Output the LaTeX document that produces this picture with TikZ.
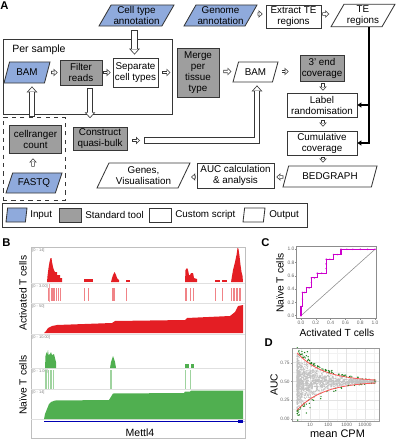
\documentclass[tikz,border=0pt]{standalone}
\usepackage{fontspec}
\setmainfont{Liberation Sans}
\usetikzlibrary{shapes.geometric,arrows.meta,calc}

\definecolor{inblue}{RGB}{143,170,220}
\definecolor{toolgray}{RGB}{158,158,158}
\definecolor{edgegray}{RGB}{55,55,55}
\definecolor{igvred}{RGB}{228,30,36}
\definecolor{igvgreen}{RGB}{80,175,80}
\definecolor{genebl}{RGB}{0,0,178}
\definecolor{rocmag}{RGB}{204,0,204}
\definecolor{nullred}{RGB}{250,90,90}
\definecolor{hitgreen}{RGB}{25,125,25}

\tikzset{
  box/.style={draw=edgegray, line width=0.6pt, align=center, inner sep=1pt},
  toolbox/.style={box, fill=toolgray},
  scriptbox/.style={box, fill=white},
  para/.style={box, trapezium, trapezium left angle=60, trapezium right angle=120, trapezium stretches body},
  inbox/.style={para, fill=inblue},
  outbox/.style={para, fill=white},
  hsmall/.style={draw=edgegray, line width=2.4pt, -{Triangle[length=2.8pt,width=5.4pt,line width=0pt]},
    postaction={draw=white, line width=1.4pt, shorten <=0.5pt, shorten >=0.72pt,
      -{Triangle[length=1.58pt,width=3.05pt,line width=0pt]}}},
  hbig/.style={draw=edgegray, line width=4.4pt, line join=miter, -{Triangle[length=4.2pt,width=7.6pt,line width=0pt]},
    postaction={draw=white, line width=3.3pt, shorten <=0.55pt, shorten >=0.82pt,
      -{Triangle[length=2.83pt,width=5.12pt,line width=0pt]}}},
  tearrow/.style={line width=1.1pt, -{Triangle[length=2.8pt,width=3.6pt]}},
  panel/.style={font=\fontsize{8}{9}\selectfont\bfseries, inner sep=0pt},
  track/.style={font=\fontsize{2.8}{3}\selectfont, text=black!50, inner sep=0pt, anchor=north west},
  ticklab/.style={font=\fontsize{3.5}{4}\selectfont, text=black!60, inner sep=0.5pt},
  axlab/.style={font=\fontsize{7.3}{8}\selectfont, inner sep=0pt},
}

\begin{document}
\begin{tikzpicture}[x=0.025cm, y=-0.025cm, font=\fontsize{7}{7.8}\selectfont]
\useasboundingbox (0,0) rectangle (403,440);

% ---------- A: workflow
\node[panel] (labA) at (4.5,5.5) {A};
\node[inbox, minimum width=1.875cm, minimum height=0.525cm] (celltype) at (136.5,15.5) {Cell type\\annotation};
\node[inbox, minimum width=1.825cm, minimum height=0.525cm] (genome) at (220.5,15.5) {Genome\\annotation};
\node[scriptbox, minimum width=1.375cm, minimum height=0.575cm] (extract) at (293.5,16.5) {Extract TE\\regions};
\node[outbox, minimum width=1.6cm, minimum height=0.525cm] (teregions) at (363,15.5) {TE\\regions};

\node[draw=edgegray, line width=0.6pt, minimum width=4.225cm, minimum height=1.875cm] (persample) at (87.5,76.5) {};
\node[anchor=west, font=\fontsize{7.5}{8}\selectfont, inner sep=0pt] (persamplelab) at (12,50) {Per sample};
\node[inbox, minimum width=1.15cm, minimum height=0.525cm] (bam1) at (27,72.5) {BAM};
\node[toolbox, minimum width=1.05cm, minimum height=0.625cm] (filter) at (81,72.5) {Filter\\reads};
\node[scriptbox, minimum width=1.125cm, minimum height=0.725cm] (separate) at (135.5,72.5) {Separate\\cell types};
\node[toolbox, minimum width=1.05cm, minimum height=1.225cm] (merge) at (198,72.5) {Merge\\per\\tissue\\type};
\node[outbox, minimum width=1.125cm, minimum height=0.5cm] (bam2) at (255.5,72) {BAM};
\node[toolbox, minimum width=1.1cm, minimum height=0.65cm] (threeend) at (322,68) {3' end\\coverage};
\node[scriptbox, minimum width=1.75cm, minimum height=0.6cm] (labrand) at (322,105) {Label\\randomisation};
\node[scriptbox, minimum width=1.75cm, minimum height=0.6cm] (cumcov) at (322,143) {Cumulative\\coverage};
\node[outbox, minimum width=2.35cm, minimum height=0.525cm] (bedgraph) at (330,176.5) {BEDGRAPH};
\node[scriptbox, minimum width=1.925cm, minimum height=0.625cm] (auc) at (235.5,175.5) {AUC calculation\\\& analysis};
\node[outbox, minimum width=2.325cm, minimum height=0.625cm] (genes) at (143.5,175.5) {Genes,\\Visualisation};

\node[draw=edgegray, dashed, line width=0.6pt, minimum width=1.55cm, minimum height=2.075cm] (tenx) at (34,158.5) {};
\node[toolbox, minimum width=1.3cm, minimum height=0.7cm] (cellranger) at (35.5,139) {cellranger\\count};
\node[inbox, minimum width=1.4cm, minimum height=0.5cm] (fastq) at (34,183) {FASTQ};
\node[toolbox, minimum width=1.35cm, minimum height=0.55cm] (quasibulk) at (100,139) {Construct\\quasi-bulk};
\coordinate (qbstart) at (144,140.5);

% hollow arrows
\draw[hsmall] ($(genome.east -| genome.top right corner)+(0,-1.5)$) -- ($(extract.west)+(-3,-2.5)$);
\draw[hsmall] ($(extract.east)+(1,-2.5)$) -- ($(teregions.west -| teregions.bottom left corner)+(-1,-1.5)$);
\draw[hbig] ($(celltype.south)+(-2,4)$) -- ($(separate.north -| celltype.south)+(-2,-3)$);
\draw[hsmall] ($(bam1.east -| bam1.top right corner)+(0.5,0)$) -- ($(filter.west)+(-2,0)$);
\draw[hsmall] ($(filter.east)+(1,0)$) -- ($(separate.west)+(-2,0)$);
\draw[hsmall] ($(separate.east)+(4,0)$) -- ($(persample.east |- separate.east)+(-2,0)$);
\draw[hsmall] ($(merge.east)+(4,-1)$) -- ($(bam2.west -| bam2.bottom left corner)+(-1,-0.5)$);
\draw[hsmall] ($(bam2.east -| bam2.top right corner)+(3,-0.5)$) -- ($(threeend.west |- bam2.east)+(-11,-0.5)$);
\draw[hsmall] ($(threeend.south)+(1,2)$) -- ($(labrand.north)+(1,-2)$);
\draw[hsmall] ($(labrand.south)+(1,3)$) -- ($(cumcov.north)+(1,-4)$);
\draw[hsmall] ($(cumcov.south)+(1,2)$) -- ($(bedgraph.north -| cumcov.south)+(1,-3)$);
\draw[hsmall] ($(bedgraph.west -| bedgraph.bottom left corner)+(1,0.5)$) -- ($(auc.east)+(2,1.5)$);
\draw[hsmall] ($(auc.west)+(-1,1.5)$) -- ($(genes.east -| genes.top right corner)+(0.5,1.5)$);
\draw[hsmall] ($(fastq.north)+(-1,-6)$) -- ($(cellranger.south)+(-2.5,5)$);
\draw[hbig] ($(tenx.north -| bam1.south)+(5,0)$) -- ($(bam1.south)+(5,3)$);
\draw[hbig] ($(filter.south)+(9,3)$) -- ($(quasibulk.north -| filter.south)+(9,-9)$);
\draw[hsmall] ($(quasibulk.east)+(5,1.5)$) -- ($(qbstart)+(-4,0)$);
\draw[hbig] (qbstart) -| ($(bam2.south)+(1.5,3)$);

% TE regions feed
\coordinate (tedrop) at ($(teregions.south)+(6,0)$);
\draw[tearrow] (tedrop) |- (cumcov.east);
\draw[tearrow] (tedrop |- labrand.east) -- (labrand.east);

% legend
\node[draw=edgegray, line width=0.6pt, minimum width=7.625cm, minimum height=0.6cm] (legend) at (154.5,215) {};
\node[inbox, minimum width=0.525cm, minimum height=0.35cm] (keyin) at (16.5,215) {};
\node[anchor=west, inner sep=0pt] (keyintext) at (30,215) {Input};
\node[toolbox, minimum width=0.55cm, minimum height=0.35cm] (keytool) at (70,215) {};
\node[anchor=west, inner sep=0pt] (keytooltext) at (85,215) {Standard tool};
\node[scriptbox, minimum width=0.55cm, minimum height=0.35cm] (keyscript) at (160.5,215) {};
\node[anchor=west, inner sep=0pt] (keyscripttext) at (175,215) {Custom script};
\node[outbox, minimum width=0.55cm, minimum height=0.35cm] (keyout) at (254,215) {};
\node[anchor=west, inner sep=0pt] (keyouttext) at (269,215) {Output};

% ---------- B: coverage tracks
\node[panel] (labB) at (6.5,242.5) {B};
\draw[black!25, line width=0.4pt] (31,247) rectangle (245,438);
\foreach \ty in {283,303,334,368,389,419}
  \draw[black!12, line width=0.3pt] (31,\ty) -- (245,\ty);
\node[track] (trk1) at (32,248) {[0 - 14]};
\node[track] (trk2) at (32,284) {[0 - 3.00]};
\node[track] (trk3) at (32,304) {[0 - 50]};
\node[track] (trk4) at (32,335) {[0 - 10.00]};
\node[track] (trk5) at (32,369.5) {[0 - 1.00]};
\node[track] (trk6) at (32,390.5) {[0 - 14]};

\fill[igvred] (47,282) -- (47.5,276) -- (48.5,268) -- (49.5,262) -- (50.5,258) -- (51.5,258) -- (52,262)
  -- (53,267) -- (54,270) -- (55,272) -- (57,272) -- (57,275) -- (60,275) -- (60,278) -- (62,278) -- (62,282) -- cycle;
\fill[igvred] (84,279) rectangle (93,282);
\fill[igvred] (111,282) -- (112,278) -- (113,275) -- (114.5,272) -- (116,275) -- (117,278) -- (119,280) -- (119,282) -- cycle;
\fill[igvred] (126,279.5) rectangle (130,282);
\fill[igvred] (185,282) -- (185.5,270) -- (187,268) -- (188,270) -- (189,275) -- (190,275) -- (191,273) -- (193,273)
  -- (194,278) -- (197,279) -- (197,282) -- cycle;
\fill[igvred] (215,279.5) rectangle (220,282);
\fill[igvred] (222,279.5) rectangle (227,282);
\fill[igvred] (231,282) -- (232,276) -- (233,270) -- (235,262) -- (236.5,255) -- (237.5,248) -- (238.5,249)
  -- (239.5,256) -- (240.5,265) -- (241.5,272) -- (242.5,276) -- (243,282) -- cycle;

\draw[igvred!40, line width=0.3pt] (49.5,284) -- (49.5,302);
\foreach \lx in {48,51,52,53,54,56,58,60,84,88,112,113,114,126,185,186,190,193,215,222,231,233,234,236,237,239,240}
  \draw[igvred!55, line width=0.28pt] (\lx,288) -- (\lx,301);

\fill[igvred] (44,333) -- (46,331) -- (48,328) -- (52,326) -- (57,325) -- (112,323) -- (115,321) -- (185,320)
  -- (187,318) -- (230,316) -- (235,312) -- (237,308) -- (238,306) -- (243,305) -- (243,333) -- cycle;

\fill[igvgreen] (45,368) -- (45.5,356) -- (46.5,352) -- (47,355) -- (48,350) -- (48.5,355) -- (50,354) -- (51,352)
  -- (52,355) -- (54,354) -- (55,358) -- (56,362) -- (56,368) -- cycle;
\fill[igvgreen] (110,368) -- (111,362) -- (112,359) -- (113,356) -- (114,359) -- (115,362) -- (116,368) -- cycle;
\fill[igvgreen] (185,364) rectangle (188.5,368);
\fill[igvgreen] (190.5,364) rectangle (194,368);

\foreach \lx in {45,46,48,50,51,53,110,111,185,190}
  \draw[igvgreen!55, line width=0.35pt] (\lx,370) -- (\lx,389);

\fill[igvgreen] (44,419) -- (45,414) -- (47,409) -- (49,404) -- (51,402) -- (55,400.5) -- (109,400) -- (113,393.5)
  -- (184,393) -- (185,391.5) -- (190,391.5) -- (191,390.5) -- (243,390.5) -- (243,419) -- cycle;

\draw[genebl, line width=1.1pt] (44,421.5) -- (243,421.5);
\fill[genebl] (238,419.6) rectangle (243,423.4);
\draw[genebl!30, line width=0.5pt] (243,421.5) -- (245,421.5);
\node[font=\fontsize{7.5}{8}\selectfont] (gene) at (140,432.5) {Mettl4};

\node[axlab, rotate=90] (actlab) at (23,293) {Activated T cells};
\node[axlab, rotate=90] (naivelab) at (23,385) {Naïve T cells};

% ---------- C: ROC
\node[panel] (labC) at (265.5,242.5) {C};
\begin{scope}[shift={(301,315.7)}, x=1.85cm, y=1.66cm]
  \draw[black!45, line width=0.4pt] (-0.058,-0.039) rectangle (1.014,1.039);
  \foreach \t in {0.0,0.2,0.4,0.6,0.8,1.0}{
    \draw[black!45, line width=0.3pt] (-0.058,\t) -- (-0.075,\t);
    \draw[black!45, line width=0.3pt] (\t,-0.039) -- (\t,-0.06);
    \node[ticklab, anchor=east] at (-0.075,\t) {\t};
    \node[ticklab, anchor=north] at (\t,-0.06) {\t};
  }
  \draw[black!45, line width=0.4pt] (0,0) -- (1,1);
  \draw[rocmag, line width=0.9pt] (0,0) -- (0,0.14) -- (0.02,0.14) -- (0.02,0.35) -- (0.077,0.35) -- (0.077,0.42)
    -- (0.14,0.42) -- (0.14,0.57) -- (0.22,0.57) -- (0.22,0.64) -- (0.34,0.64) -- (0.34,0.85) -- (0.44,0.85)
    -- (0.44,0.92) -- (0.54,0.92) -- (0.54,1) -- (1,1);
  \foreach \p in {(0,0),(0,0.07),(0,0.14),(0.02,0.25),(0.02,0.35),(0.05,0.35),(0.077,0.42),(0.11,0.42),(0.14,0.5),
      (0.14,0.57),(0.18,0.57),(0.22,0.64),(0.28,0.64),(0.34,0.71),(0.34,0.78),(0.34,0.85),(0.39,0.85),(0.44,0.92),
      (0.49,0.92),(0.54,1),(0.62,1),(0.7,1),(0.8,1),(0.9,1),(1,1)}
    \fill[rocmag] \p circle (0.6pt);
\end{scope}
\node[axlab, rotate=90] (rocy) at (280,283) {Naïve T cells};
\node[axlab] (rocx) at (337,333) {Activated T cells};

% ---------- D: AUC vs mean CPM
\node[panel] (labD) at (268.7,343) {D};
\begin{scope}[shift={(291.7,419)}, x=0.4575cm, y=1.875cm]
  \foreach \v in {0.5,1.5,2.5,3.5,4.5}
    \draw[black!5, line width=0.3pt] (\v,-0.027) -- (\v,0.947);
  \foreach \a in {0.125,0.375,0.625,0.875}
    \draw[black!5, line width=0.3pt] (0.04,\a) -- (4.77,\a);
  \foreach \v in {1,2,3,4}
    \draw[black!11, line width=0.4pt] (\v,-0.027) -- (\v,0.947);
  \foreach \a in {0,0.25,0.5,0.75}
    \draw[black!11, line width=0.4pt] (0.04,\a) -- (4.77,\a);
  \begin{scope}
    \clip (0.04,-0.027) rectangle (4.77,0.947);
    \pgfmathsetseed{11}
    \foreach \i in {1,...,1500}{
      \pgfmathsetmacro\v{0.3+4.3*rnd^2.5}
      \pgfmathsetmacro\sd{0.19*10^(-0.3*(\v-0.3))}
      \pgfmathsetmacro\a{0.5+\sd*1.73*(rnd+rnd+rnd+rnd-2)}
      \pgfmathtruncatemacro\hit{abs(\a-0.5)>0.38*10^(-0.3*(\v-0.3)) ? 1 : 0}
      \ifnum\hit=1
        \fill[hitgreen] (\v,\a) circle (0.5pt);
      \else
        \fill[black!24] (\v,\a) circle (0.5pt);
      \fi
    }
    \draw[nullred, line width=0.6pt, domain=0.3:4.6, samples=40] plot (\x,{0.5+0.38*10^(-0.3*(\x-0.3))});
    \draw[nullred, line width=0.6pt, domain=0.3:4.6, samples=40] plot (\x,{0.5-0.38*10^(-0.3*(\x-0.3))});
    \foreach \i in {1,...,45}{
      \pgfmathsetmacro\v{0.55+3.1*rnd^1.4}
      \pgfmathsetmacro\a{0.5+0.38*10^(-0.3*(\v-0.3))+0.01+0.05*rnd*10^(-0.2*(\v-0.3))}
      \fill[hitgreen] (\v,\a) circle (0.5pt);
    }
    \foreach \p in {(2.3,0.37),(2.7,0.42),(1.6,0.3),(1.0,0.15),(0.35,0.05),(0.8,0.08),(1.2,0.25),(3.1,0.45),(4.55,0.5),(0.5,0.86),(0.9,0.83)}
      \fill[hitgreen] \p circle (0.5pt);
  \end{scope}
  \draw[black!40, line width=0.4pt] (0.04,-0.027) rectangle (4.77,0.947);
  \foreach \a/\al in {0/0.00,0.25/0.25,0.5/0.50,0.75/0.75}{
    \draw[black!40, line width=0.3pt] (0.04,\a) -- (-0.06,\a);
    \node[ticklab, anchor=east, font=\fontsize{3.4}{4}\selectfont] at (-0.06,\a) {\al};
  }
  \foreach \v/\vl in {1/10,2/100,3/1000,4/10000}{
    \draw[black!40, line width=0.3pt] (\v,-0.027) -- (\v,-0.045);
    \node[ticklab, anchor=north, font=\fontsize{3.4}{4}\selectfont] at (\v,-0.045) {\vl};
  }
\end{scope}
\node[axlab, rotate=90] (aucy) at (274,385) {AUC};
\node[font=\fontsize{7.8}{8.5}\selectfont, inner sep=0pt] (cpmx) at (337.5,434) {mean CPM};

\end{tikzpicture}
\end{document}
